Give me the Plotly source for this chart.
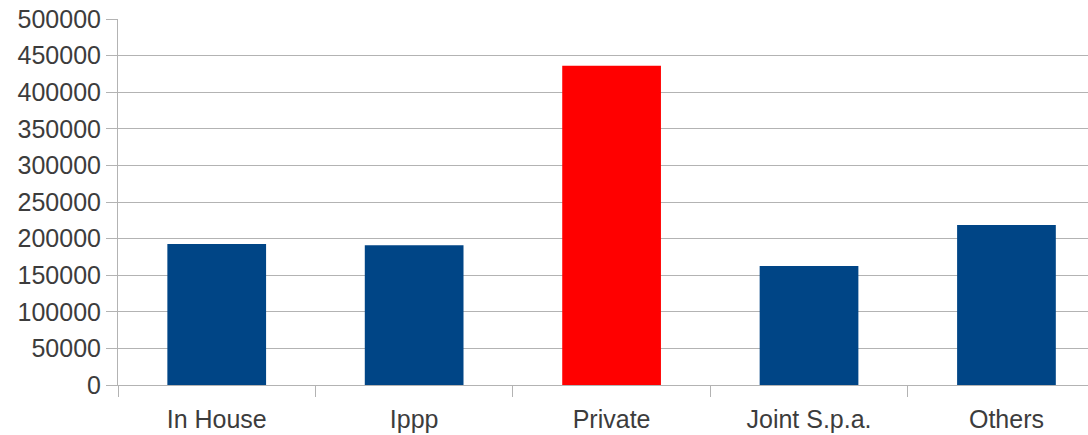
import plotly.graph_objects as go

categories = ["In House", "Ippp", "Private", "Joint S.p.a.", "Others"]
values = [192500, 191000, 436000, 162400, 218500]
bar_colors = ["#004586", "#004586", "#ff0000", "#004586", "#004586"]
y_ticks = list(range(0, 500001, 50000))

grid = "#b3b3b3"
text_color = "#3c3c3c"
font_family = "Liberation Sans, Arial, sans-serif"

fig = go.Figure(
    go.Bar(
        x=categories,
        y=values,
        marker=dict(color=bar_colors, line=dict(width=0)),
        width=0.5,
    )
)

fig.update_layout(
    width=1088,
    height=435,
    margin=dict(l=118, r=0, t=19, b=50),
    paper_bgcolor="white",
    plot_bgcolor="white",
    showlegend=False,
    font=dict(family=font_family, size=25, color=text_color),
)

fig.update_xaxes(
    type="category",
    range=[-0.5, 4.413],
    tickson="boundaries",
    ticks="outside",
    ticklen=11,
    tickcolor=grid,
    tickwidth=1,
    showline=True,
    linecolor=grid,
    linewidth=1,
    showgrid=False,
    ticklabelstandoff=12,
    tickfont=dict(size=25, color=text_color),
)

fig.update_yaxes(
    range=[0, 500000],
    tickvals=y_ticks,
    ticktext=[str(v) for v in y_ticks],
    ticks="outside",
    ticklen=11,
    tickcolor=grid,
    tickwidth=1,
    showline=True,
    linecolor=grid,
    linewidth=1,
    showgrid=True,
    gridcolor=grid,
    gridwidth=1,
    zeroline=False,
    tickfont=dict(size=25, color=text_color),
)

fig.write_html("out.html")
